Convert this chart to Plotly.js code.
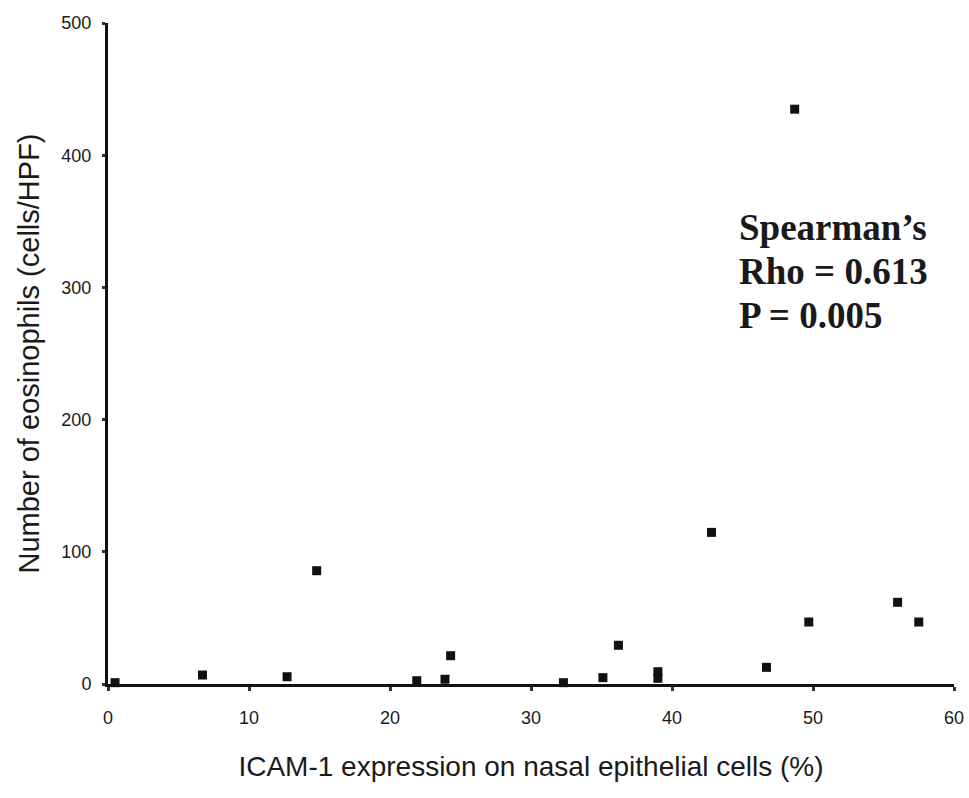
<!DOCTYPE html>
<html>
<head>
<meta charset="utf-8">
<script src="https://cdn.plot.ly/plotly-3.0.1.min.js"></script>
<style>html,body{margin:0;padding:0;background:#fff;}#chart{width:969px;height:798px;}</style>
</head>
<body>
<div id="chart"></div>
<script>
const icam = [0.5, 6.7, 12.7, 14.8, 21.9, 23.9, 24.3, 32.3, 35.1, 36.2, 39.0, 39.0, 42.8, 46.7, 48.7, 49.7, 56.0, 57.5];
const eosinophils = [1, 6.8, 5.5, 85.7, 2.5, 3.6, 21.4, 1, 4.8, 29.3, 9.3, 4.3, 114.7, 12.6, 434.8, 46.9, 61.8, 46.9];
const xTicks = [0, 10, 20, 30, 40, 50, 60];
const yTicks = [0, 100, 200, 300, 400, 500];
const statsLines = ["Spearman’s", "Rho = 0.613", "P = 0.005"];
const statsLineY = [0.691, 0.624, 0.557];

const trace = {
  x: icam, y: eosinophils, type: 'scatter', mode: 'markers',
  marker: {symbol: 'square', size: 9, color: '#111'},
  cliponaxis: false, hoverinfo: 'skip'
};
const layout = {
  width: 969, height: 798,
  margin: {l: 108, r: 15, t: 23, b: 114},
  paper_bgcolor: '#fff', plot_bgcolor: '#fff',
  showlegend: false,
  font: {family: 'Liberation Sans, Arial, sans-serif', color: '#1a1a1a'},
  xaxis: {
    range: [0, 60], tickvals: xTicks, ticktext: xTicks.map(String),
    showgrid: false, zeroline: false, showline: true, linecolor: '#111', linewidth: 3,
    ticks: 'outside', ticklen: 4, tickwidth: 3, tickcolor: '#333',
    tickfont: {size: 18, color: '#1a1a1a'}, ticklabelstandoff: 11,
    title: {text: 'ICAM-1 expression on nasal epithelial cells (%)', font: {size: 28, color: '#1a1a1a'}, standoff: 30},
    automargin: false
  },
  yaxis: {
    range: [0, 500], tickvals: yTicks, ticktext: yTicks.map(String),
    showgrid: false, zeroline: false, showline: true, linecolor: '#111', linewidth: 3,
    ticks: 'outside', ticklen: 3, tickwidth: 3, tickcolor: '#333',
    tickfont: {size: 18, color: '#1a1a1a'}, ticklabelstandoff: 7,
    title: {text: 'Number of eosinophils (cells/HPF)', font: {size: 29, color: '#1a1a1a'}, standoff: 14},
    automargin: false
  },
  annotations: statsLines.map((t, i) => ({
    text: t, xref: 'paper', yref: 'paper', x: 0.744, y: statsLineY[i],
    xanchor: 'left', yanchor: 'middle', align: 'left', showarrow: false,
    font: {family: 'Liberation Serif, Times New Roman, serif', size: 37, color: '#1a1a1a', weight: 'bold'}
  }))
};
Plotly.newPlot('chart', [trace], layout, {displayModeBar: false, staticPlot: true});
</script>
</body>
</html>
